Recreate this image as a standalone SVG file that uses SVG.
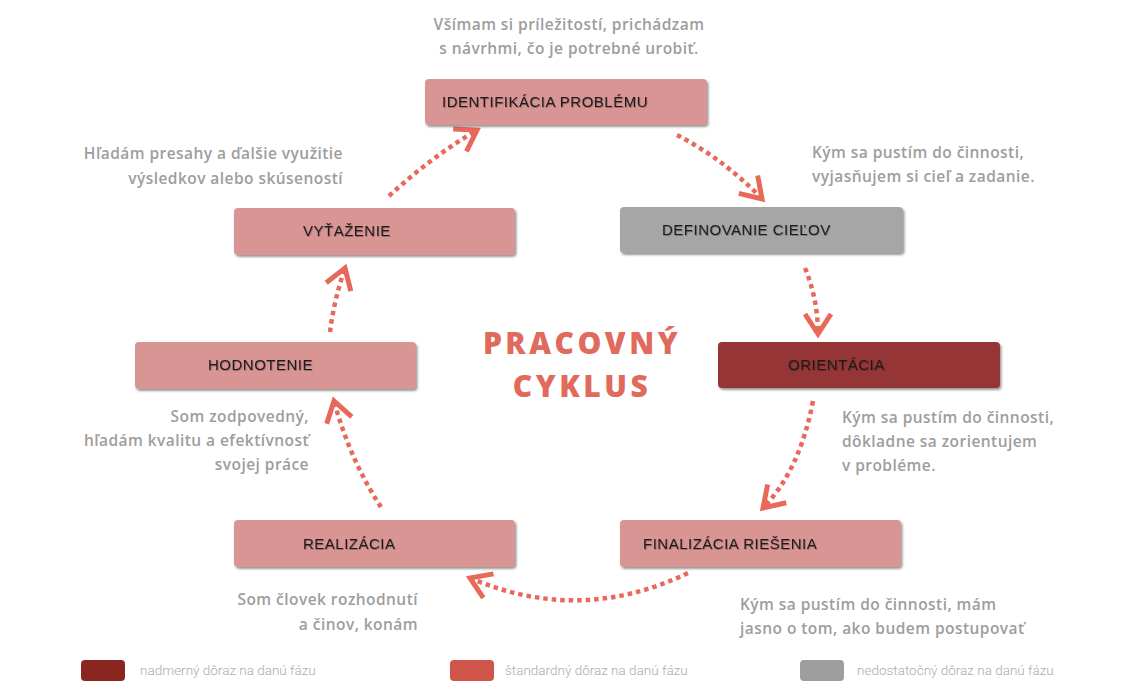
<svg xmlns="http://www.w3.org/2000/svg" width="1130" height="690" viewBox="0 0 1130 690">
<defs>
<filter id="sh" x="-5%" y="-20%" width="110%" height="150%">
<feDropShadow dx="1.5" dy="2" stdDeviation="1.2" flood-color="#444" flood-opacity="0.55"/>
</filter>
<filter id="tsh" x="-5%" y="-30%" width="110%" height="160%">
<feDropShadow dx="0.6" dy="0.8" stdDeviation="0.6" flood-color="#000" flood-opacity="0.35"/>
</filter>
<marker id="chev" markerUnits="userSpaceOnUse" markerWidth="40" markerHeight="40" viewBox="-26 -20 40 40" refX="0" refY="0" orient="auto" overflow="visible">
<path d="M-20,-13 L0,0 L-20,13" fill="none" stroke="#e8685a" stroke-width="5" stroke-linejoin="miter"/>
</marker>
</defs>
<style>
.box{filter:url(#sh)}
.pink{fill:#d99494}
.gray{fill:#a6a6a6}
.dark{fill:#953535}
.lbl{font-family:"Liberation Sans",Arial,sans-serif;font-size:15px;letter-spacing:0.5px;fill:#1e1e1e;filter:url(#tsh)}
.desc{font-family:"Open Sans","Noto Sans",sans-serif;font-weight:600;font-size:15.5px;letter-spacing:0.45px;fill:#9d9d9d}
.title{font-family:"Open Sans","Noto Sans",sans-serif;font-weight:800;font-size:30px;fill:#e06a5c;letter-spacing:3.5px}
.conn{fill:none;stroke:#e8685a;stroke-width:4.5;stroke-dasharray:4.5 4;marker-end:url(#chev)}
.leg{font-family:Roboto,"Liberation Sans",sans-serif;font-weight:300;font-size:13.5px;fill:#ababab}
</style>
<rect width="1130" height="690" fill="#ffffff"/>

<g id="connectors">
<path class="conn" d="M677,135 Q725,160 762,199"/>
<path class="conn" d="M805,268 Q818,300 818,334"/>
<path class="conn" d="M813,401 Q800,470 763,508"/>
<path class="conn" d="M688,573 Q580,625 470,578"/>
<path class="conn" d="M381,507 Q350,460 334,401"/>
<path class="conn" d="M330,332 Q334,300 345,268"/>
<path class="conn" d="M389,196 Q430,158 477,130"/>
</g>

<g id="node-identifikacia">
<rect class="box pink" x="425" y="79" width="282" height="46" rx="4"/>
<text class="lbl" x="442" y="107">IDENTIFIKÁCIA PROBLÉMU</text>
</g>
<g id="node-definovanie">
<rect class="box gray" x="620" y="207" width="283" height="46" rx="4"/>
<text class="lbl" x="662" y="235">DEFINOVANIE CIEĽOV</text>
</g>
<g id="node-orientacia">
<rect class="box dark" x="718" y="342" width="282" height="46" rx="4"/>
<text class="lbl" x="788" y="370">ORIENTÁCIA</text>
</g>
<g id="node-finalizacia">
<rect class="box pink" x="620" y="520" width="281" height="47" rx="4"/>
<text class="lbl" x="643" y="549">FINALIZÁCIA RIEŠENIA</text>
</g>
<g id="node-realizacia">
<rect class="box pink" x="234" y="520" width="281" height="47" rx="4"/>
<text class="lbl" x="303" y="549">REALIZÁCIA</text>
</g>
<g id="node-hodnotenie">
<rect class="box pink" x="135" y="342" width="281" height="47" rx="4"/>
<text class="lbl" x="208" y="370">HODNOTENIE</text>
</g>
<g id="node-vytazenie">
<rect class="box pink" x="234" y="208" width="281" height="47" rx="4"/>
<text class="lbl" x="303" y="236">VYŤAŽENIE</text>
</g>

<g id="title">
<text class="title" x="582" y="354" text-anchor="middle">PRACOVNÝ</text>
<text class="title" x="582" y="397" text-anchor="middle">CYKLUS</text>
</g>

<g id="descriptions">
<text class="desc" x="569" y="30" text-anchor="middle">Všímam si príležitostí, prichádzam</text>
<text class="desc" x="569" y="54" text-anchor="middle">s návrhmi, čo je potrebné urobiť.</text>
<text class="desc" x="812" y="158">Kým sa pustím do činnosti,</text>
<text class="desc" x="812" y="182">vyjasňujem si cieľ a zadanie.</text>
<text class="desc" x="343" y="159" text-anchor="end">Hľadám presahy a ďalšie využitie</text>
<text class="desc" x="343" y="184" text-anchor="end">výsledkov alebo skúseností</text>
<text class="desc" x="842" y="423">Kým sa pustím do činnosti,</text>
<text class="desc" x="842" y="447">dôkladne sa zorientujem</text>
<text class="desc" x="842" y="471">v probléme.</text>
<text class="desc" x="309" y="422" text-anchor="end">Som zodpovedný,</text>
<text class="desc" x="309" y="446" text-anchor="end">hľadám kvalitu a efektívnosť</text>
<text class="desc" x="309" y="470" text-anchor="end">svojej práce</text>
<text class="desc" x="418" y="605" text-anchor="end">Som človek rozhodnutí</text>
<text class="desc" x="418" y="630" text-anchor="end">a činov, konám</text>
<text class="desc" x="740" y="610">Kým sa pustím do činnosti, mám</text>
<text class="desc" x="740" y="634">jasno o tom, ako budem postupovať</text>
</g>

<g id="legend">
<rect x="81" y="660" width="44" height="21" rx="4" fill="#8b2520"/>
<text class="leg" x="140" y="675">nadmerný dôraz na danú fázu</text>
<rect x="450" y="660" width="44" height="21" rx="4" fill="#d0554a"/>
<text class="leg" x="505" y="675">štandardný dôraz na danú fázu</text>
<rect x="800" y="660" width="44" height="21" rx="4" fill="#9e9e9e"/>
<text class="leg" x="857" y="675">nedostatočný dôraz na danú fázu</text>
</g>
</svg>
